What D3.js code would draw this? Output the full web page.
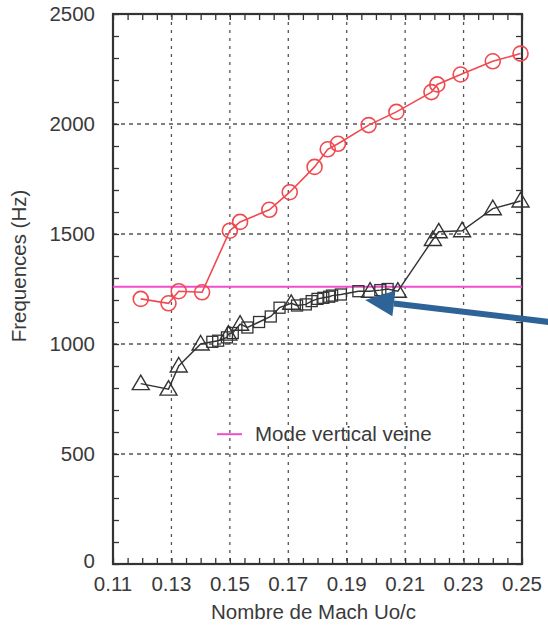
<!DOCTYPE html>
<html>
<head>
<meta charset="utf-8">
<script src="https://cdn.jsdelivr.net/npm/d3@7"></script>
<style>
  body { margin: 0; background: #fff; }
  text { font-family: "Liberation Sans", Arial, sans-serif; fill: #3a3a3a; }
</style>
</head>
<body>
<svg id="chart" width="548" height="625"></svg>
<script>
// values
var redX = [0.1195, 0.129, 0.1325, 0.1405, 0.150, 0.1535, 0.1635, 0.1705, 0.179, 0.1835, 0.187, 0.1975, 0.207, 0.219, 0.221, 0.229, 0.240, 0.2495];
var redY = [1205, 1185, 1240, 1235, 1515, 1555, 1610, 1690, 1805, 1885, 1910, 1995, 2055, 2145, 2180, 2225, 2285, 2320];

var triX = [0.1195, 0.129, 0.1325, 0.1400, 0.1495, 0.1535, 0.171, 0.198, 0.2075, 0.2195, 0.2215, 0.2295, 0.240, 0.2495];
var triY = [820, 795, 900, 1000, 1045, 1090, 1185, 1240, 1240, 1475, 1510, 1515, 1615, 1650];

var sqX = [0.144, 0.146, 0.149, 0.151, 0.156, 0.160, 0.164, 0.167, 0.173, 0.176, 0.178, 0.180, 0.182, 0.184, 0.185, 0.188, 0.194, 0.2015, 0.204];
var sqY = [1010, 1015, 1030, 1050, 1075, 1100, 1125, 1165, 1175, 1180, 1195, 1205, 1210, 1215, 1220, 1225, 1240, 1245, 1250];

var veineY = 1260;
var legendLabel = "Mode vertical veine";

var xTicks = [0.11, 0.13, 0.15, 0.17, 0.19, 0.21, 0.23, 0.25];
var yTicks = [0, 500, 1000, 1500, 2000, 2500];

var margin = {left: 113, top: 14, right: 26, bottom: 61};
var width = 548 - margin.left - margin.right;
var height = 625 - margin.top - margin.bottom;

var svg = d3.select("#chart");
var g = svg.append("g").attr("transform", `translate(${margin.left},${margin.top})`);

var x = d3.scaleLinear().domain([0.11, 0.25]).range([0, width]);
var y = d3.scaleLinear().domain([0, 2500]).range([height, 0]);

var minorX = d3.range(0.11, 0.2501, 0.005);
var minorY = d3.range(0, 2501, 100);

// grid
g.append("g").selectAll("line")
  .data(xTicks.slice(1, -1))
  .join("line")
  .attr("x1", d => x(d)).attr("x2", d => x(d))
  .attr("y1", 0).attr("y2", height)
  .attr("stroke", "#555").attr("stroke-width", 1.3)
  .attr("stroke-dasharray", "3,5");
g.append("g").selectAll("line")
  .data(yTicks.slice(1, -1))
  .join("line")
  .attr("y1", d => y(d)).attr("y2", d => y(d))
  .attr("x1", 0).attr("x2", width)
  .attr("stroke", "#555").attr("stroke-width", 1.3)
  .attr("stroke-dasharray", "4,4");

// inward ticks on all four sides
var tl = 6;
g.append("g").attr("transform", `translate(0,${height})`)
  .call(d3.axisBottom(x).tickValues(minorX).tickSizeInner(-tl).tickSizeOuter(0).tickFormat(""));
g.append("g")
  .call(d3.axisTop(x).tickValues(minorX).tickSizeInner(-tl).tickSizeOuter(0).tickFormat(""));
g.append("g")
  .call(d3.axisLeft(y).tickValues(minorY).tickSizeInner(-tl).tickSizeOuter(0).tickFormat(""));
g.append("g").attr("transform", `translate(${width},0)`)
  .call(d3.axisRight(y).tickValues(minorY).tickSizeInner(-tl).tickSizeOuter(0).tickFormat(""));
g.selectAll(".domain").remove();
g.selectAll(".tick line").attr("stroke", "#333").attr("stroke-width", 1.3);

// frame
g.append("rect").attr("width", width).attr("height", height)
  .attr("fill", "none").attr("stroke", "#333").attr("stroke-width", 2.2);

// tick labels
g.append("g").selectAll("text")
  .data(xTicks)
  .join("text")
  .attr("x", d => x(d)).attr("y", height + 27)
  .attr("text-anchor", "middle")
  .attr("font-size", 20.5)
  .text(d => d3.format(".2f")(d));
g.append("g").selectAll("text")
  .data(yTicks)
  .join("text")
  .attr("x", -18).attr("y", d => y(d))
  .attr("dy", d => d === 0 ? "0.2em" : "0.35em")
  .attr("text-anchor", "end")
  .attr("font-size", 20.5)
  .text(d => d);

// axis titles
svg.append("text")
  .attr("x", margin.left + width / 2 - 4).attr("y", 619)
  .attr("text-anchor", "middle").attr("font-size", 20.5)
  .text("Nombre de Mach Uo/c");
svg.append("text")
  .attr("transform", `translate(26,${margin.top + 252}) rotate(-90)`)
  .attr("text-anchor", "middle").attr("font-size", 20.5)
  .text("Frequences (Hz)");

// horizontal mode line
g.append("line")
  .attr("x1", 0).attr("x2", width)
  .attr("y1", y(veineY)).attr("y2", y(veineY))
  .attr("stroke", "#f04ccb").attr("stroke-width", 2);

// red series
var red = redX.map((d, i) => [d, redY[i]]);
var line = d3.line().x(d => x(d[0])).y(d => y(d[1]));
g.append("path").datum(red)
  .attr("d", line).attr("fill", "none")
  .attr("stroke", "#f0494f").attr("stroke-width", 1.6);
g.append("g").selectAll("circle")
  .data(red)
  .join("circle")
  .attr("cx", d => x(d[0])).attr("cy", d => y(d[1]))
  .attr("r", 7.5)
  .attr("fill", "none").attr("stroke", "#f0494f").attr("stroke-width", 1.6);

// black series: triangles + squares joined by one line
var tri = triX.map((d, i) => [d, triY[i]]);
var sq = sqX.map((d, i) => [d, sqY[i]]);
var black = tri.concat(sq).sort((a, b) => a[0] - b[0]);
g.append("path").datum(black)
  .attr("d", line).attr("fill", "none")
  .attr("stroke", "#333").attr("stroke-width", 1.4);

g.append("g").selectAll("path")
  .data(tri)
  .join("path")
  .attr("transform", d => `translate(${x(d[0])},${y(d[1])})`)
  .attr("d", "M0,-8.5L8.5,6L-8.5,6Z")
  .attr("fill", "none").attr("stroke", "#333").attr("stroke-width", 1.4);

g.append("g").selectAll("rect")
  .data(sq)
  .join("rect")
  .attr("x", d => x(d[0]) - 5.5).attr("y", d => y(d[1]) - 5.5)
  .attr("width", 11).attr("height", 11)
  .attr("fill", "none").attr("stroke", "#333").attr("stroke-width", 1.3);

// legend
var lg = g.append("g").attr("transform", `translate(104,${y(590)})`);
lg.append("line").attr("x1", 0).attr("x2", 25)
  .attr("stroke", "#f04ccb").attr("stroke-width", 2);
lg.append("text").attr("x", 38).attr("dy", "0.35em")
  .attr("font-size", 20.5).text(legendLabel);

// blue annotation arrow
var tip = [x(0.1963), y(1200)];
var tail = [x(0.2593), y(1100)];
var ang = Math.atan2(tail[1] - tip[1], tail[0] - tip[0]);
var headLen = 29, headHalf = 13;
var bx = tip[0] + headLen * Math.cos(ang), by = tip[1] + headLen * Math.sin(ang);
g.append("line")
  .attr("x1", bx).attr("y1", by).attr("x2", tail[0]).attr("y2", tail[1])
  .attr("stroke", "#2e6398").attr("stroke-width", 6);
g.append("path")
  .attr("d", `M${tip[0]},${tip[1]}L${bx - headHalf * Math.sin(ang)},${by + headHalf * Math.cos(ang)}L${bx + headHalf * Math.sin(ang)},${by - headHalf * Math.cos(ang)}Z`)
  .attr("fill", "#2e6398");
</script>
</body>
</html>
